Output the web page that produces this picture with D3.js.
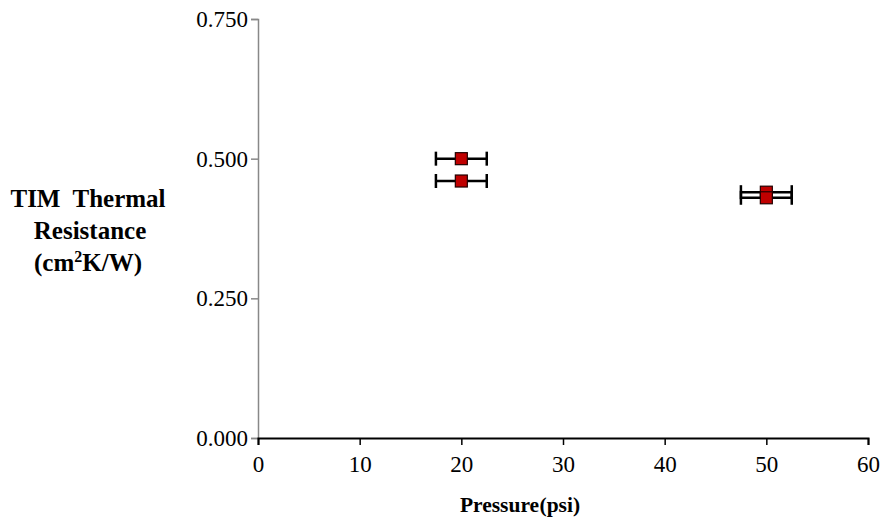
<!DOCTYPE html>
<html>
<head>
<meta charset="utf-8">
<script src="https://cdn.jsdelivr.net/npm/d3@7"></script>
<style>
  body { margin: 0; background: #fff; }
</style>
</head>
<body>
<script>
// data
var pressure   = [20, 20, 50, 50];
var resistance = [0.500, 0.460, 0.440, 0.430];
var pressErr   = [2.5, 2.5, 2.5, 2.5];
var resErr     = [0.005, 0.005, 0.005, 0.005];
var xTicks = [0, 10, 20, 30, 40, 50, 60];
var yTicks = [0, 0.25, 0.5, 0.75];

var FONT = "'Liberation Serif', 'Times New Roman', serif";
var W = 886, H = 527;
var svg = d3.select("body").append("svg")
  .attr("width", W).attr("height", H)
  .style("font-family", FONT);

var x = d3.scaleLinear().domain([0, 60]).range([258, 868]);
var y = d3.scaleLinear().domain([0, 0.75]).range([438, 19]);

// y axis (grey line, ticks outward)
var yAxis = svg.append("g")
  .attr("transform", "translate(" + x(0) + ",0)")
  .call(d3.axisLeft(y).tickValues(yTicks).tickFormat(d3.format(".3f")).tickSize(7).tickPadding(3));
yAxis.attr("font-family", null);
yAxis.select(".domain").attr("stroke", "#888").attr("stroke-width", 1.5);
yAxis.selectAll(".tick line").attr("stroke", "#888").attr("stroke-width", 1.5);
yAxis.selectAll("text").attr("font-size", 23).attr("fill", "#000")
  .style("font-family", FONT);

// x axis
var xAxis = svg.append("g")
  .attr("transform", "translate(0," + y(0) + ")")
  .call(d3.axisBottom(x).tickValues(xTicks).tickSize(7).tickSizeOuter(7).tickPadding(11));
xAxis.attr("font-family", null);
xAxis.select(".domain").attr("stroke", "#000").attr("stroke-width", 2);
xAxis.selectAll(".tick line").attr("stroke", "#000").attr("stroke-width", 1.5);
xAxis.selectAll("text").attr("font-size", 23).attr("fill", "#000")
  .style("font-family", FONT);

// axis titles
svg.append("text")
  .attr("x", 520).attr("y", 512)
  .attr("text-anchor", "middle")
  .style("font-family", FONT)
  .attr("font-size", 21.5).attr("font-weight", "bold")
  .attr("word-spacing", -5)
  .text("Pressure (psi)");

var yt = svg.append("text")
  .attr("text-anchor", "middle")
  .style("font-family", FONT)
  .attr("font-size", 25).attr("font-weight", "bold");
yt.append("tspan").attr("x", 88).attr("y", 207).style("white-space", "pre").text("TIM  Thermal");
yt.append("tspan").attr("x", 90).attr("y", 239).text("Resistance");
yt.append("tspan").attr("x", 88).attr("y", 271).text("(cm");
yt.append("tspan").attr("dy", -9).attr("font-size", 16).text("2");
yt.append("tspan").attr("dy", 9).text("K/W)");

// points
var pts = pressure.map(function (p, i) {
  return { x: p, y: resistance[i], ex: pressErr[i], ey: resErr[i] };
});
var g = svg.append("g");
var cap = 7;
pts.forEach(function (d) {
  var cx = x(d.x), cy = y(d.y);
  g.append("line").attr("x1", x(d.x - d.ex)).attr("x2", x(d.x + d.ex))
    .attr("y1", cy).attr("y2", cy).attr("stroke", "#000").attr("stroke-width", 2.5);
  [d.x - d.ex, d.x + d.ex].forEach(function (v) {
    g.append("line").attr("x1", x(v)).attr("x2", x(v))
      .attr("y1", cy - cap).attr("y2", cy + cap).attr("stroke", "#000").attr("stroke-width", 2.5);
  });
  g.append("line").attr("x1", cx).attr("x2", cx)
    .attr("y1", y(d.y + d.ey)).attr("y2", y(d.y - d.ey))
    .attr("stroke", "#000").attr("stroke-width", 2);
  g.append("rect").attr("x", cx - 6).attr("y", cy - 6)
    .attr("width", 12).attr("height", 12)
    .attr("fill", "#c00000").attr("stroke", "#200").attr("stroke-width", 1.2);
});
</script>
</body>
</html>
